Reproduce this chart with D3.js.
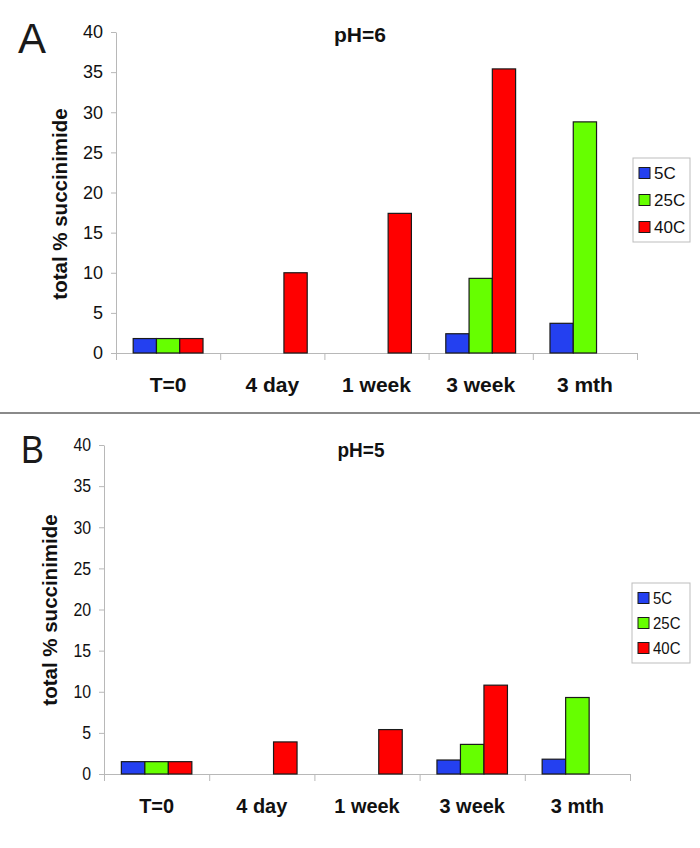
<!DOCTYPE html>
<html>
<head>
<meta charset="utf-8">
<script src="https://cdn.jsdelivr.net/npm/d3@7"></script>
<style>
  body { margin: 0; background: #fff; }
  svg { display: block; }
</style>
</head>
<body>
<div id="grafico"></div>
<script>
// Dados
const categorias = ['T=0', '4 day', '1 week', '3 week', '3 mth'];
const series = ['5C', '25C', '40C'];
const cores = ['#2440f0', '#66ff00', '#ff0000'];
const ticksY = [0, 5, 10, 15, 20, 25, 30, 35, 40];

// pH=6 (painel A)
const ph6_5C = [1.8, null, null, 2.4, 3.7];
const ph6_25C = [1.8, null, null, 9.3, 28.8];
const ph6_40C = [1.8, 10.0, 17.4, 35.4, null];

// pH=5 (painel B)
const ph5_5C = [1.5, null, null, 1.7, 1.8];
const ph5_25C = [1.5, null, null, 3.6, 9.3];
const ph5_40C = [1.5, 3.9, 5.4, 10.8, null];

const largura = 700, altura = 848;

const svg = d3.select('#grafico')
    .append('svg')
    .attr('width', largura)
    .attr('height', altura)
    .style('font-family', 'Arial, "Liberation Sans", sans-serif');

// Painéis
const paineis = [
    {
        letra: 'A', titulo: 'pH=6', valores: [ph6_5C, ph6_25C, ph6_40C],
        esq: 116, dir: 637, topo: 32, base: 353,
        aperto: 1, apertoTexto: 1,
        letraX: 18, letraY: 53, letraTam: 42,
        tituloX: 360, tituloY: 42, tituloTam: 21,
        rotuloX: 60, rotuloY: 204, rotuloTam: 20.5,
        catY: 392, catTam: 21, tickTam: 18,
        legenda: { x: 633, y: 158, w: 57, h: 84, passo: 27 }
    },
    {
        letra: 'B', titulo: 'pH=5', valores: [ph5_5C, ph5_25C, ph5_40C],
        esq: 104, dir: 630, topo: 445, base: 774,
        aperto: 0.88, apertoTexto: 0.95,
        letraX: 21, letraY: 463, letraTam: 39,
        tituloX: 361, tituloY: 457, tituloTam: 20,
        rotuloX: 50, rotuloY: 610, rotuloTam: 20.5,
        catY: 813, catTam: 21, tickTam: 18,
        legenda: { x: 632, y: 583, w: 58, h: 80, passo: 25 }
    }
];

// Linha separadora
svg.append('line')
    .attr('x1', 0).attr('x2', largura)
    .attr('y1', 413).attr('y2', 413)
    .attr('stroke', '#8a8a8a')
    .attr('stroke-width', 2);

paineis.forEach(p => {
    const g = svg.append('g');
    const f = p.aperto;
    const ft = p.apertoTexto;

    // Escalas
    const x0 = d3.scaleBand()
        .domain(categorias)
        .range([p.esq, p.dir])
        .paddingInner(0.33)
        .paddingOuter(0.165);

    const x1 = d3.scaleBand()
        .domain(series)
        .range([0, x0.bandwidth()]);

    const limites = d3.scaleLinear()
        .domain([0, categorias.length])
        .range([p.esq, p.dir]);

    const y = d3.scaleLinear()
        .domain([0, 40])
        .range([p.base, p.topo]);

    // Eixo Y
    const eixoY = g.append('g')
        .attr('transform', `translate(${p.esq},0)`)
        .call(d3.axisLeft(y).tickValues(ticksY).tickSize(5).tickSizeOuter(0).tickPadding(8));
    eixoY.select('.domain').attr('stroke', '#b8b8b8');
    eixoY.selectAll('.tick line').attr('stroke', '#b8b8b8');
    eixoY.selectAll('text')
        .attr('x', -13 / f)
        .attr('transform', `scale(${f},1)`)
        .style('font-size', p.tickTam + 'px')
        .style('font-family', 'Arial, "Liberation Sans", sans-serif')
        .attr('fill', '#111');

    // Eixo X: marcas nas fronteiras das categorias
    const eixoX = g.append('g')
        .attr('transform', `translate(0,${p.base})`)
        .call(d3.axisBottom(limites).tickValues(d3.range(categorias.length + 1)).tickSize(7).tickSizeOuter(0).tickFormat(''));
    eixoX.select('.domain').attr('stroke', '#b8b8b8');
    eixoX.selectAll('.tick line').attr('stroke', '#b8b8b8');

    // Rótulos das categorias
    g.selectAll('text.categoria')
        .data(categorias)
        .enter()
        .append('text')
        .attr('class', 'categoria')
        .attr('transform', d => `translate(${x0(d) + x0.bandwidth() / 2},${p.catY}) scale(${ft},1)`)
        .attr('text-anchor', 'middle')
        .style('font-size', p.catTam + 'px')
        .style('font-weight', 'bold')
        .attr('fill', '#111')
        .text(d => d);

    // Barras
    const grupos = g.selectAll('g.grupo')
        .data(categorias)
        .enter()
        .append('g')
        .attr('class', 'grupo')
        .attr('transform', d => `translate(${x0(d)},0)`);

    grupos.selectAll('rect')
        .data((d, i) => series.map((s, j) => ({ serie: s, cor: cores[j], valor: p.valores[j][i] })))
        .enter()
        .filter(d => d.valor != null)
        .append('rect')
        .attr('x', d => x1(d.serie))
        .attr('y', d => y(d.valor))
        .attr('width', x1.bandwidth())
        .attr('height', d => y(0) - y(d.valor))
        .attr('fill', d => d.cor)
        .attr('stroke', '#1a1a1a')
        .attr('stroke-width', 1.2);

    // Título
    g.append('text')
        .attr('transform', `translate(${p.tituloX},${p.tituloY}) scale(${ft},1)`)
        .attr('text-anchor', 'middle')
        .style('font-size', p.tituloTam + 'px')
        .style('font-weight', 'bold')
        .attr('fill', '#111')
        .text(p.titulo);

    // Letra do painel
    g.append('text')
        .attr('transform', `translate(${p.letraX},${p.letraY}) scale(${f},1)`)
        .style('font-size', p.letraTam + 'px')
        .attr('fill', '#1a1a1a')
        .text(p.letra);

    // Rótulo do eixo Y
    g.append('text')
        .attr('transform', `translate(${p.rotuloX},${p.rotuloY}) rotate(-90)`)
        .attr('text-anchor', 'middle')
        .attr('dy', '0.35em')
        .style('font-size', p.rotuloTam + 'px')
        .style('font-weight', 'bold')
        .attr('fill', '#111')
        .text('total % succinimide');

    // Legenda
    const L = p.legenda;
    const leg = g.append('g').attr('transform', `translate(${L.x},${L.y})`);
    leg.append('rect')
        .attr('width', L.w).attr('height', L.h)
        .attr('fill', '#fff')
        .attr('stroke', '#bdbdbd');
    const itens = leg.selectAll('g.item')
        .data(series)
        .enter()
        .append('g')
        .attr('class', 'item')
        .attr('transform', (d, i) => `translate(6,${15 + i * L.passo})`);
    itens.append('rect')
        .attr('y', -5.5)
        .attr('width', 11).attr('height', 11)
        .attr('fill', (d, i) => cores[i])
        .attr('stroke', '#1a1a1a');
    itens.append('text')
        .attr('transform', `translate(15,0) scale(${f},1)`)
        .attr('dy', '0.36em')
        .style('font-size', '17px')
        .attr('fill', '#111')
        .text(d => d);
});
</script>
</body>
</html>
